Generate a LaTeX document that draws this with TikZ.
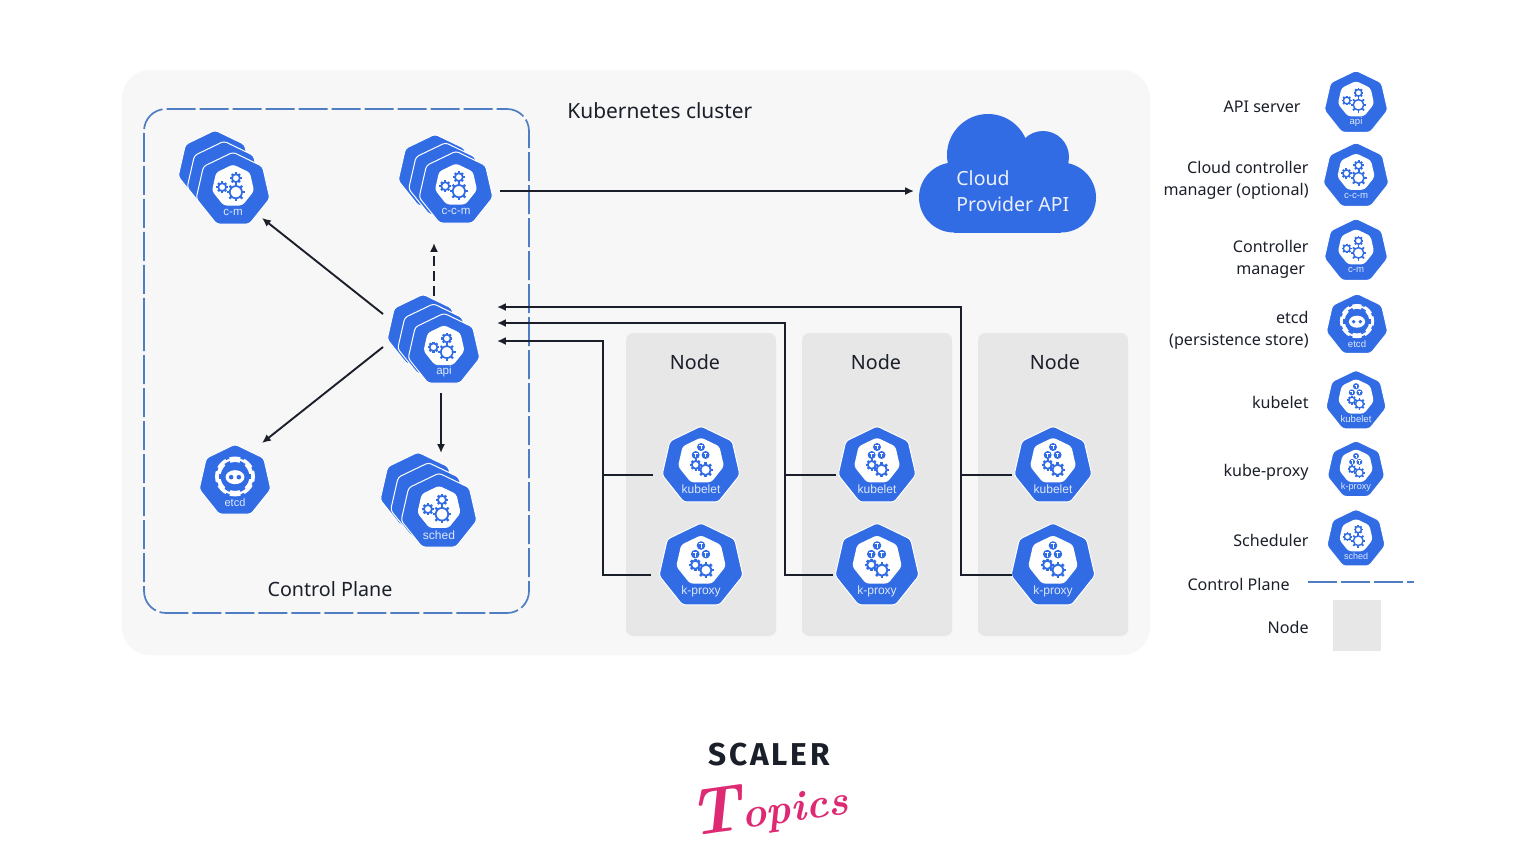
\documentclass[tikz,border=0pt]{standalone}
\usepackage{fontspec}
\setmainfont{Noto Sans}
\newfontfamily\iconfont{Liberation Sans}
\newfontfamily\logofont[LetterSpace=9]{Fira Sans}
\newfontfamily\penfont{Latin Modern Roman}
\usetikzlibrary{shapes.geometric,arrows.meta,calc}
\definecolor{kblue}{HTML}{326CE5}
\definecolor{kdash}{HTML}{4F7DC4}
\definecolor{kbg}{HTML}{F7F7F7}
\definecolor{knode}{HTML}{E7E7E7}
\definecolor{kink}{HTML}{1B1F2A}
\definecolor{kpink}{HTML}{DE2A73}
\definecolor{klabel}{HTML}{DCE7FB}
\tikzset{
  x=0.5pt,y=-0.5pt,
  kpoly/.style={regular polygon,regular polygon sides=7,inner sep=0pt,outer sep=0pt,fill=kblue,draw=white,line width=.5pt,rounded corners=1.5pt},
  kface/.style={regular polygon,regular polygon sides=7,inner sep=0pt,outer sep=0pt,fill=white,rounded corners=1.5pt},
  klab/.style={text=klabel,inner sep=0pt,font=\iconfont},
  txt/.style={inner sep=0pt,text=kink,font=\fontsize{9.85}{11}\selectfont},
  ltxt/.style={inner sep=0pt,text=kink,anchor=east,font=\fontsize{8.05}{11}\selectfont},
  wire/.style={draw=kink,line width=.95pt},
  arr/.style={wire,-{Latex[length=4.4pt,width=4pt]}},
  dasharr/.style={arr,dash pattern=on 5pt off 2.6pt},
  cpline/.style={draw=kdash,line width=.85pt,dash pattern=on 14.5pt off 2pt},
}
% gear: x y r
\newcommand\kgear[3]{\begin{scope}[shift={(#1,#2)}]
  \draw[kblue,line width=\klw pt] (0,0) circle[radius=.68*#3];
  \foreach \ka in {0,45,...,315}{\draw[kblue,line width=1.3*\klw pt] (\ka:.68*#3) -- (\ka:#3);}
\end{scope}}
\newcommand\kpod[2]{\fill[kblue] (#1,#2) circle[radius=.105];
  \draw[white,line width=.5*\klw pt] ($(#1,#2)+(-.05,-.04)$) -- ($(#1,#2)+(.05,-.04)$) ($(#1,#2)+(0,-.04)$) -- ($(#1,#2)+(0,.06)$);}
\newcommand\kctl{\kgear{.08}{.06}{.25}\kgear{-.3}{-.08}{.16}\kgear{.08}{-.33}{.16}}
\newcommand\kwork{\kpod{0}{-.5}\kpod{-.14}{-.29}\kpod{.12}{-.29}\kgear{-.14}{-.03}{.15}\kgear{.12}{.1}{.2}}
% name x y R label kind fontsize
\newcommand\kicon[7]{%
  \node[kpoly,minimum size=1.05*#4 pt] (#1) at (#2,#3) {};
  \begin{scope}[shift={(#2,#3)}]
    \pgfmathsetmacro\klw{.024*#4}
    \begin{scope}[x=#4*.5pt,y=-#4*.5pt]
      #6{#1}{#4}
      \node[klab,font=\iconfont\fontsize{#7}{#7}\selectfont] (#1-label) at (0,.62) {#5};
    \end{scope}
  \end{scope}}
\newcommand\kindctl[2]{\node[kface,minimum size=.6*#2 pt] (#1-face) at (0,-.11) {};\kctl}
\newcommand\kindwork[2]{\node[kface,minimum size=.62*#2 pt] (#1-face) at (0,-.13) {};\kwork}
\newcommand\kindetcd[2]{%
  \begin{scope}[shift={(0,-.13)}]
  \fill[white] (0,0) circle[radius=.57];
  \foreach \ka in {0,45,...,315}{\draw[kblue,line width=2.2*\klw pt] (\ka+22:.53) -- (\ka+22:.6);}
  \fill[kblue] (0,0) circle[radius=.41];
  \foreach \ka in {0,60,...,300}{\draw[kblue,line width=3.4*\klw pt] (\ka:.38) -- (\ka:.46);}
  \fill[white] (0,.02) ellipse[x radius=.27,y radius=.2];
  \fill[kblue] (-.11,.02) circle[radius=.065] (.11,.02) circle[radius=.065];
  \end{scope}}
% stack: name x y R dx dy label kind size
\newcommand\kstack[9]{%
  \node[kpoly,minimum size=1.05*#4 pt] (#1-back) at ($(#2,#3)+2*(#5,#6)$) {};
  \node[kpoly,minimum size=1.05*#4 pt] (#1-mid) at ($(#2,#3)+(#5,#6)$) {};
  \kicon{#1}{#2}{#3}{#4}{#7}{#8}{#9}}
\begin{document}
\begin{tikzpicture}
\useasboundingbox (0,0) rectangle (1536,864);
\fill[white] (0,0) rectangle (1536,864);
% cluster
\fill[kbg,rounded corners=14pt] (122,70) rectangle (1150,655);
\draw[cpline,rounded corners=11pt] (144,300) -- (144,613) -- (529,613) -- (529,109) -- (144,109) -- cycle;
\fill[knode,rounded corners=3.5pt] (626,333) rectangle (776,636);
\fill[knode,rounded corners=3.5pt] (802,333) rectangle (952,636);
\fill[knode,rounded corners=3.5pt] (978,333) rectangle (1128,636);
\node[txt,anchor=base west,font=\fontsize{10.45}{11}\selectfont] (title) at (567,118) {Kubernetes cluster};
\node[txt] (node1) at (695,362) {Node};
\node[txt] (node2) at (876,362) {Node};
\node[txt] (node3) at (1055,362) {Node};
\node[txt] (cplabel) at (330,589) {Control Plane};
% cloud
\fill[kblue] (988,155) circle[radius=41];
\fill[kblue] (1043,157) circle[radius=26];
\fill[kblue] (954,197.5) circle[radius=35];
\fill[kblue] (1061,197.5) circle[radius=35];
\fill[kblue] (954,165) rectangle (1061,232.5);
\node[inner sep=0pt,anchor=north west,text=white!90!kblue,align=left,font=\fontsize{9.75}{13}\selectfont] (cloud) at (956,170) {Cloud\\Provider API};
% control plane icons
\kstack{cm}{233}{190}{36}{-9}{-11}{c-m}{\kindctl}{5.8}
\kstack{ccm}{456}{189}{36}{-10.5}{-8.5}{c-c-m}{\kindctl}{5.8}
\kstack{api}{444}{350}{35}{-10.5}{-9.5}{api}{\kindctl}{5.8}
\kicon{etcd}{235}{481}{35}{etcd}{\kindetcd}{5.5}
\kstack{sched}{439}{512}{37}{-10.5}{-10.5}{sched}{\kindctl}{6}
% workers
\kicon{kub1}{701}{466}{38}{kubelet}{\kindwork}{6}
\kicon{kub2}{877}{466}{38}{kubelet}{\kindwork}{6}
\kicon{kub3}{1053}{466}{38}{kubelet}{\kindwork}{6}
\kicon{prox1}{701}{566}{41}{k-proxy}{\kindwork}{6}
\kicon{prox2}{877}{566}{41}{k-proxy}{\kindwork}{6}
\kicon{prox3}{1053}{566}{41}{k-proxy}{\kindwork}{6}
% connectors
\draw[arr] ([shift={(44,2)}]ccm.center) -- ([shift={(-42,2)}]cloud.west |- ccm.center);
\draw[arr] ([shift={(-61,-36)}]api.center) -- ([shift={(29,28)}]cm.center);
\draw[dasharr] ([shift={(-10,-54)}]api.center) -- ([shift={(-22,54)}]ccm.center);
\draw[arr] ([shift={(-61,-3)}]api.center) -- ([shift={(27,-38)}]etcd.center);
\draw[arr] ([shift={(-3,43)}]api.center) -- ([shift={(2,-59)}]sched.center);
\coordinate (bus1) at (603,341);
\coordinate (bus2) at (785,323);
\coordinate (bus3) at (961,307);
\coordinate (k1) at ([shift={(-48,9)}]kub1.center);
\coordinate (k2) at ([shift={(-41,9)}]kub2.center);
\coordinate (k3) at ([shift={(-41,9)}]kub3.center);
\coordinate (p1) at ([shift={(-50,9)}]prox1.center);
\coordinate (p2) at ([shift={(-44,9)}]prox2.center);
\coordinate (p3) at ([shift={(-41,9)}]prox3.center);
\draw[wire] (k1) -- (k1 -| bus1);
\draw[wire] (k2) -- (k2 -| bus2);
\draw[wire] (k3) -- (k3 -| bus3);
\draw[arr] (p1) -| (bus1) -- ([shift={(53,-9)}]api.center);
\draw[arr] (p2) -| (bus2) -- ([shift={(53,-27)}]api.center);
\draw[arr] (p3) -| (bus3) -- ([shift={(53,-43)}]api.center);
% legend
\node[ltxt] (l1) at (1301,107) {API server};
\node[ltxt,align=right] (l2) at (1309,180) {Cloud controller\\manager (optional)};
\node[ltxt,align=center] (l3) at (1309,259) {Controller\\manager};
\node[ltxt,align=right] (l4) at (1309,330) {etcd\\(persistence store)};
\node[ltxt] (l5) at (1309,402) {kubelet};
\node[ltxt] (l6) at (1309,472) {kube-proxy};
\node[ltxt] (l7) at (1309,540) {Scheduler};
\node[ltxt] (l8) at (1290,584) {Control Plane};
\node[ltxt] (l9) at (1309,627) {Node};
\kicon{lapi}{1356}{103}{31}{api}{\kindctl}{4.8}
\kicon{lccm}{1356}{176}{32}{c-c-m}{\kindctl}{4.8}
\kicon{lcm}{1356}{251}{31}{c-m}{\kindctl}{4.8}
\kicon{letcd}{1357}{325}{30}{etcd}{\kindetcd}{4.8}
\kicon{lkub}{1356}{401}{29.5}{kubelet}{\kindwork}{4.8}
\kicon{lprox}{1356}{470}{28}{k-proxy}{\kindwork}{4.6}
\kicon{lsched}{1356}{539}{28.5}{sched}{\kindctl}{4.5}
\draw[cpline] (1308,582) -- (1414,582);
\fill[knode] (1333,600) rectangle (1381,651);
% logo
\node[inner sep=0pt,text=kink,font=\logofont\bfseries\fontsize{15.8}{16}\selectfont] (scaler) at (769,755) {SCALER};
\node[inner sep=0pt,text=kpink,font=\penfont\bfseries\itshape\fontsize{21}{21}\selectfont,rotate=8] (topics) at (768,807) {{\fontsize{33}{33}\selectfont T}opics};
\end{tikzpicture}
\end{document}
